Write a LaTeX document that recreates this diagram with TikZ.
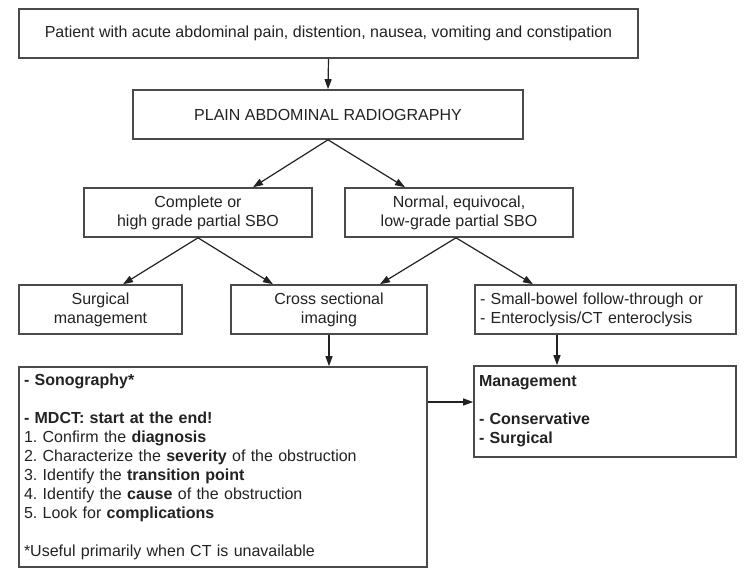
\documentclass[tikz,border=0pt]{standalone}
\usepackage{fontspec}
\setmainfont{Liberation Sans}
\usetikzlibrary{arrows.meta}
\definecolor{ink}{HTML}{222222}
\definecolor{edge}{HTML}{4A4A4A}
\frenchspacing
\begin{document}
\begin{tikzpicture}[x=1pt,y=-1pt,
  box/.style={draw=edge, line width=1.6pt, inner sep=0pt, text=ink,
    font=\fontsize{16}{19}\selectfont\frenchspacing, align=center},
  lbox/.style={box, align=left, inner xsep=5pt},
  conn/.style={draw=ink, line width=1.2pt, -{Triangle[length=10pt,width=7pt]}}]
\useasboundingbox (0,0) rectangle (744,571);
\node[box, minimum width=619pt, minimum height=49pt] (top) at (328.5,33.5)
  {Patient with acute abdominal pain, distention, nausea, vomiting and constipation};
\node[box, minimum width=390pt, minimum height=49pt] (rad) at (328,114.5)
  {PLAIN ABDOMINAL RADIOGRAPHY};
\node[box, minimum width=228pt, minimum height=49pt] (cL) at (198,212.5)
  {Complete or\\high grade partial SBO};
\node[box, minimum width=228pt, minimum height=49pt] (cR) at (459,212.5)
  {Normal, equivocal,\\low-grade partial SBO};
\node[box, minimum width=163pt, minimum height=49pt] (surg) at (100.5,309.5)
  {Surgical\\management};
\node[box, minimum width=196pt, minimum height=49pt] (cross) at (329,309.5)
  {Cross sectional\\imaging};
\node[lbox, text width=251pt, minimum height=49pt] (sbft) at (605.5,309.5)
  {- Small-bowel follow-through or\\- Enteroclysis/CT enteroclysis};
\node[lbox, text width=398pt, minimum height=200pt] (big) at (223,467)
  {\textbf{- Sonography*}\\[19pt]
   \textbf{- MDCT: start at the end!}\\
   1. Confirm the \textbf{diagnosis}\\
   2. Characterize the \textbf{severity} of the obstruction\\
   3. Identify the \textbf{transition point}\\
   4. Identify the \textbf{cause} of the obstruction\\
   5. Look for \textbf{complications}\\[19pt]
   *Useful primarily when CT is unavailable};
\node[lbox, text width=252pt, minimum height=91pt] (mgmt) at (605,411.5)
  {\textbf{Management}\\[19pt]
   \textbf{- Conservative}\\
   \textbf{- Surgical}};
\draw[conn] (top.south) -- (rad.north);
\draw[conn] (rad.south) -- ([xshift=55pt]cL.north);
\draw[conn] (rad.south) -- ([xshift=-54pt]cR.north);
\draw[conn] (cL.south) -- ([xshift=22.5pt]surg.north);
\draw[conn] (cL.south) -- ([xshift=-56pt]cross.north);
\draw[conn] ([xshift=-3pt]cR.south) -- ([xshift=51pt]cross.north);
\draw[conn] ([xshift=-3pt]cR.south) -- ([xshift=-72.5pt]sbft.north);
\draw[conn] (cross.south) -- (cross.south |- big.north);
\draw[conn] ([xshift=-48.5pt]sbft.south) -- ([xshift=-48.5pt]sbft.south |- mgmt.north);
\draw[conn] ([yshift=65pt]big.east) -- ([yshift=65pt]big.east -| mgmt.west);
\end{tikzpicture}
\end{document}
